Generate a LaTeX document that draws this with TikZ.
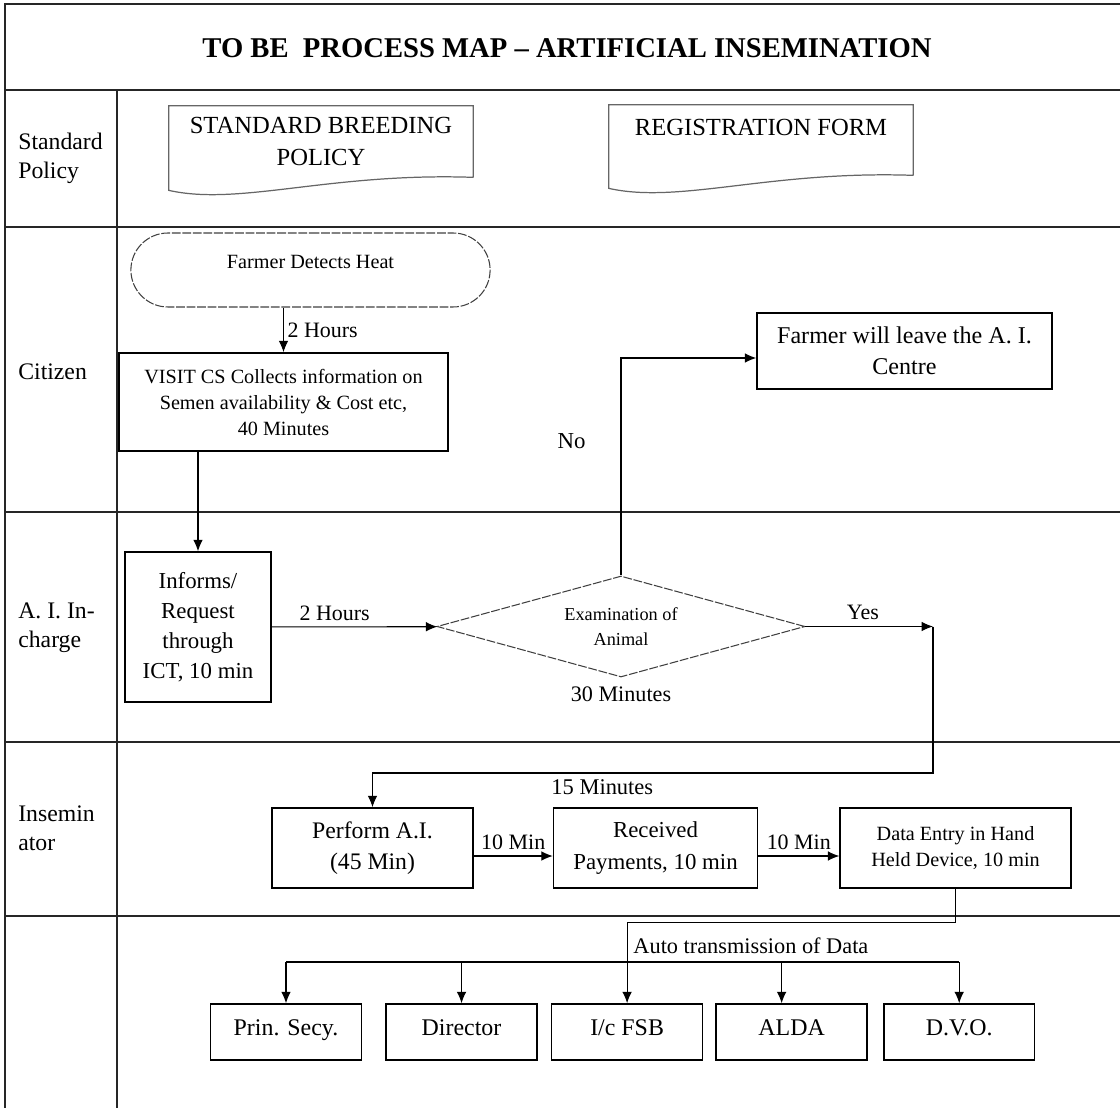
\documentclass[tikz,border=0pt]{standalone}
\usepackage{fontspec}
\setmainfont{Liberation Serif}
\usetikzlibrary{calc,positioning,shapes.geometric,shapes.misc,arrows.meta}

\newcommand{\docoutline}[1]{%
  \draw[doc line] (#1.south east) -- (#1.north east) -- (#1.north west)
    -- ($(#1.south west)+(0,13)$)
    .. controls ($(#1.south west)+(71,29)$) and ($(#1.south west)+(161,-5)$) .. (#1.south east);}

\begin{document}
\begin{tikzpicture}[x=0.02cm, y=-0.02cm,
        grid line/.style={draw=black!85, line width=0.9pt},
        lane label/.style={anchor=west, align=left, inner sep=0pt, font=\fontsize{13.5}{16.5}\selectfont},
        process node/.style={rectangle, draw, line width=0.9pt, align=center, inner sep=2pt},
        bottom node/.style={process node, minimum width=3.02cm, minimum height=1.12cm, text height=9.5pt, text depth=6pt,
                            font=\fontsize{13.6}{16}\selectfont},
        doc node/.style={rectangle, align=center, inner sep=2pt, minimum width=6.08cm, font=\fontsize{14}{18}\selectfont},
        doc line/.style={draw=black!60, line width=0.7pt},
        term node/.style={rounded rectangle, draw=black!75, dash pattern=on 5pt off 1pt, line width=0.6pt,
                          minimum width=7.42cm, minimum height=1.48cm, font=\fontsize{11.5}{14}\selectfont},
        decision node/.style={diamond, draw=black!75, dash pattern=on 5pt off 1pt, line width=0.6pt, aspect=3.6,
                          inner sep=0pt, minimum width=7.36cm, minimum height=2.02cm, align=center,
                          font=\fontsize{10.4}{14}\selectfont},
        flow/.style={-{Latex[length=6.5pt,width=5.5pt]}, line width=0.6pt},
        line/.style={line width=0.6pt}]

    \useasboundingbox (0,0) rectangle (1120,1108);

    % swim lanes
    \draw[grid line] (1120,4) -- (5,4) -- (5,1108);
    \draw[grid line] (5,90) -- (1120,90);
    \draw[grid line] (117,90) -- (117,1108);
    \draw[grid line] (5,227) -- (1120,227) (5,512) -- (1120,512)
                     (5,742) -- (1120,742) (5,916) -- (1120,916);

    \node[font=\bfseries\fontsize{16.3}{19}\selectfont] (title) at (567,48) {TO BE\ \ PROCESS MAP -- ARTIFICIAL INSEMINATION};

    \node[lane label] (policy) at (18,158.5) {Standard\\Policy};
    \node[lane label] (citizen) at (18,372) {Citizen};
    \node[lane label] (incharge) at (18,627.5) {A. I. In-\\charge};
    \node[lane label] (inseminator) at (18,828) {Insemin\\ator};

    % documents
    \node[doc node, minimum height=1.42cm] (breeding) at (321,141.5) {STANDARD BREEDING\\POLICY};
    \node[doc node, minimum height=1.4cm, text height=10pt, text depth=15.6pt] (regform) at (761,140) {REGISTRATION FORM};
    \docoutline{breeding}
    \docoutline{regform}

    % citizen
    \node[term node, text height=8pt, text depth=9.5pt] (heat) at (310.5,270) {Farmer Detects Heat};
    \node[process node, minimum width=6.58cm, minimum height=1.96cm, font=\fontsize{11.5}{14.8}\selectfont] (visit) at (283.5,402)
        {VISIT CS Collects information on\\Semen availability \& Cost etc,\\40 Minutes};
    \node[process node, minimum width=5.9cm, minimum height=1.52cm, font=\fontsize{13.7}{17.6}\selectfont] (leave) at (904.5,351)
        {Farmer will leave the A. I.\\Centre};

    % a. i. in-charge
    \node[process node, minimum width=2.92cm, minimum height=3cm, font=\fontsize{13}{17}\selectfont] (informs) at (198,627)
        {Informs/\\Request\\through\\ICT, 10 min};
    \node[decision node] (exam) at (621,626.5) {Examination of\\Animal};
    \node[below=2pt of exam, font=\fontsize{12.6}{15}\selectfont] (examtime) {30 Minutes};
    \coordinate (yesend) at (933,626.5);

    % inseminator
    \node[process node, minimum width=4.02cm, minimum height=1.6cm, font=\fontsize{13.5}{18}\selectfont] (perform) at (372.5,848)
        {Perform A.I.\\(45 Min)};
    \node[process node, minimum width=4.08cm, minimum height=1.6cm, font=\fontsize{13}{18}\selectfont, right=1.58cm of perform] (received)
        {Received\\Payments, 10 min};
    \node[process node, minimum width=4.62cm, minimum height=1.6cm, font=\fontsize{11.5}{14.8}\selectfont, right=1.62cm of received] (data)
        {Data Entry in Hand\\Held Device, 10 min};

    % receivers
    \node[bottom node] (prin) at (286,1032) {Prin. Secy.};
    \node[bottom node, right=0.46cm of prin] (director) {Director};
    \node[bottom node, right=0.26cm of director] (fsb) {I/c FSB};
    \node[bottom node, right=0.24cm of fsb] (alda) {ALDA};
    \node[bottom node, right=0.3cm of alda] (dvo) {D.V.O.};
    \coordinate (bus) at (0,962);
    \coordinate (aldadrop) at ([xshift=-0.2cm]alda.north);

    \path[every node/.style={font=\fontsize{12.5}{15}\selectfont}]
        (heat.south -| visit.north) edge[flow] node[right, inner sep=2pt] {2 Hours} (visit.north)
        (visit.south -| informs.north) edge[flow] (informs.north)
        (informs) edge[flow] node[above, pos=0.38] {2 Hours} (exam)
        (exam.east) edge[flow] node[above, pos=0.45] {Yes} (yesend)
        ([yshift=-0.16cm]perform.east) edge[flow] node[above] {10 Min} ([yshift=-0.16cm]received.west)
        ([yshift=-0.16cm]received.east) edge[flow] node[above] {10 Min} ([yshift=-0.16cm]data.west);

    \draw[flow] (exam.north) |- node[left=0.58cm, pos=0.31, font=\fontsize{13}{15}\selectfont] {No} ([yshift=-0.14cm]leave.west);
    \draw[flow] (yesend) -- ++(0,146.5) -| node[below, pos=0.295, font=\fontsize{12.8}{15}\selectfont] {15 Minutes} (perform.north);
    \draw[flow] (data.south) -- ++(0,34) -| node[right, pos=0.64, font=\fontsize{12.7}{15}\selectfont] {Auto transmission of Data} (fsb.north);

    \draw[line] (prin.north |- bus) -- (dvo.north |- bus);
    \draw[flow] (prin.north |- bus) -- (prin.north);
    \draw[flow] (director.north |- bus) -- (director.north);
    \draw[flow] (aldadrop |- bus) -- (aldadrop);
    \draw[flow] (dvo.north |- bus) -- (dvo.north);
\end{tikzpicture}
\end{document}
